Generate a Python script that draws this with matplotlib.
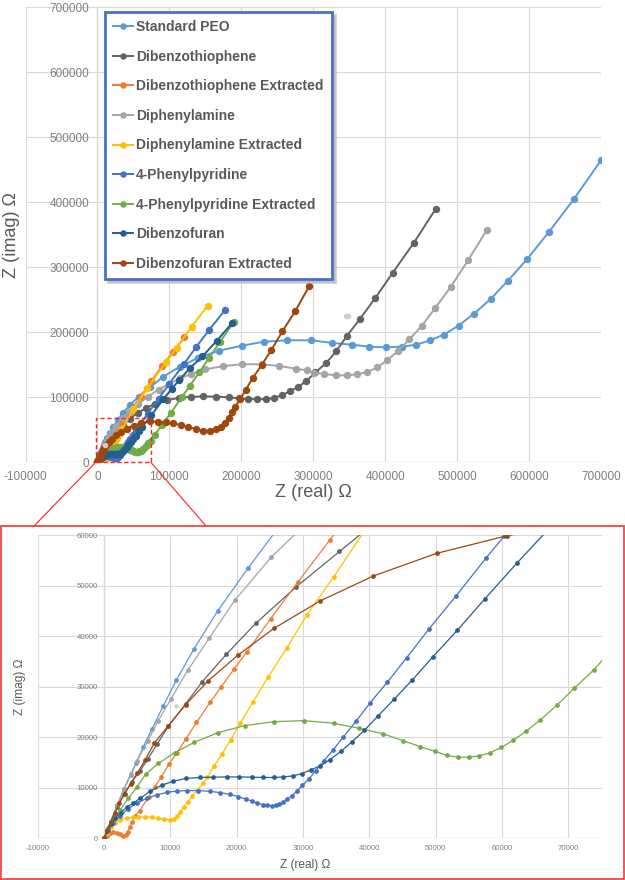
import matplotlib
matplotlib.use('Agg')
import matplotlib.pyplot as plt
from matplotlib.lines import Line2D
from matplotlib.patches import Rectangle

plt.rcParams['font.family'] = ['Liberation Sans', 'DejaVu Sans']
plt.rcParams['axes.unicode_minus'] = False

# ---------------- data ----------------
NAMES = ["Standard PEO", "Dibenzothiophene", "Dibenzothiophene Extracted", "Diphenylamine",
         "Diphenylamine Extracted", "4-Phenylpyridine", "4-Phenylpyridine Extracted",
         "Dibenzofuran", "Dibenzofuran Extracted"]
COLORS = ['#5B9BD5', '#636363', '#ED7D31', '#A5A5A5', '#FFC000', '#4472C4', '#70AD47', '#255E91', '#9E480E']

PEO_X = [0, 1000, 2000, 3000, 4000, 4870, 5890, 7210, 8890, 10880, 13580, 17130, 21760, 28000, 35000, 45600,
         57300, 73000, 91400, 114800, 139900, 168900, 200800, 232000, 264000, 296600, 326300, 353300, 377900,
         401200, 423000, 443500, 462500, 481600, 502000, 523000, 546700, 570300, 597800, 628000, 662400, 700000]
PEO_Y = [0, 3300, 6600, 9700, 12500, 14870, 18050, 21600, 26100, 31270, 37540, 45010, 53600, 64500, 75300, 88600,
         100900, 115200, 131700, 147100, 160900, 171700, 179400, 185600, 187700, 187700, 183600, 181000, 177900,
         176800, 177900, 181000, 187700, 196400, 210300, 228200, 251300, 279000, 313300, 354900, 405100, 464600]

DBT_X = [0, 1000, 2000, 3000, 4200, 5400, 6600, 8000, 9700, 12300, 14800, 18450, 22900, 28900, 35500, 45000,
         56000, 67000, 80000, 96300, 113900, 130200, 147400, 165100, 182300, 196800, 208700, 221700, 233800,
         245000, 256100, 267700, 279400, 290500, 303100, 317500, 331900, 346300, 364900, 386300, 410500, 439400, 470100]
DBT_Y = [0, 3300, 6200, 8700, 11200, 13300, 15700, 18650, 22200, 26600, 31000, 36450, 42600, 49700, 56800, 67000,
         76000, 83000, 90000, 95500, 99300, 100800, 101300, 101100, 99800, 98500, 97400, 97000, 97200,
         98800, 103100, 109200, 116400, 125100, 138500, 152300, 170700, 193800, 220500, 252800, 291700, 336900, 389700]

DBTE_X = [0, 400, 900, 1410, 1910, 2410, 2910, 3270, 3570, 3870, 4270, 4670, 5400, 6730, 7690, 8640, 9800, 11000,
          12310, 13940, 16000, 17670, 19600, 21520, 25120, 29210, 34020, 45000, 60000, 75000, 90000, 105000, 121000]
DBTE_Y = [0, 520, 990, 1190, 1120, 850, 460, 590, 1320, 2170, 3300, 4420, 5500, 8260, 10250, 12140, 14720, 16960,
          19600, 22940, 26950, 30000, 33500, 36880, 43490, 50700, 59030, 77000, 101000, 125000, 148000, 170000, 192000]

DPA_X = [0, 1000, 2000, 3000, 4000, 5000, 6610, 8110, 10100, 12620, 15870, 19710, 25240, 35000, 45000, 57000,
         70000, 85000, 100000, 115000, 130000, 150000, 175000, 200800, 228700, 252900, 276100, 291500, 301700,
         314700, 331900, 346300, 361200, 375100, 389100, 403000, 417900, 433700, 451200, 469500, 491400, 515100, 541600]
DPA_Y = [0, 3200, 6600, 9800, 12700, 15400, 19300, 23140, 27630, 33250, 39660, 47130, 55720, 68000, 79000, 90000,
         101000, 112000, 121000, 129000, 136000, 143000, 148000, 151000, 150700, 148200, 144000, 141500, 138000,
         135900, 133800, 133800, 135300, 138900, 146000, 157300, 171200, 189200, 210300, 237400, 270200, 310700, 357900]
DPA_STRAY_X = [10880, 345500, 348500]
DPA_STRAY_Y = [26110, 224600, 225400]

DPAE_X = [0, 400, 1005, 1660, 2410, 3420, 4320, 5180, 6180, 7190, 8190, 9100, 9900, 10500, 11060, 11510, 12000,
          12600, 13300, 14100, 14970, 15580, 16580, 17790, 19090, 20550, 22480, 24700, 27530, 30530, 34620,
          50000, 69300, 95300, 110000, 130900, 153300]
DPAE_Y = [0, 1100, 2170, 3100, 3630, 3960, 4150, 4220, 4220, 4150, 3960, 3760, 3560, 3890, 4420, 5210, 6100,
          7200, 8400, 9600, 10900, 12100, 14300, 16700, 19460, 22870, 27030, 31860, 37610, 44150, 51760,
          82000, 113900, 154000, 176000, 208700, 241000]

PP_X = [0, 650, 1410, 2410, 3670, 4920, 6430, 7940, 9450, 10950, 12460, 14220, 15980, 17490, 18990, 20250, 21360,
        22270, 23120, 23920, 24620, 25270, 25880, 26430, 27030, 27630, 28290, 29040, 29900, 30900, 31900, 33160,
        34570, 36100, 38000, 40120, 42730, 45630, 48990, 53060, 57640, 60350, 70000, 85000, 100000, 120000,
        137000, 155300, 177600]
PP_Y = [0, 1640, 2970, 4420, 5870, 6930, 7910, 8570, 9100, 9350, 9450, 9450, 9300, 9050, 8700, 8240, 7780,
        7390, 6990, 6660, 6530, 6460, 6530, 6720, 7120, 7710, 8440, 9300, 10490, 11740, 13390, 15370,
        17550, 20100, 23200, 26830, 30950, 35770, 41450, 47980, 55570, 59860, 75000, 98000, 121000, 151000,
        177000, 203700, 234400]

PPE_X = [0, 650, 1410, 2410, 3670, 4920, 6280, 8190, 10700, 13570, 17200, 21210, 25700, 30200, 34600, 38400,
         42100, 45050, 47650, 49920, 51680, 53430, 55010, 56580, 58150, 59910, 61690, 63600, 65790, 68300, 70880,
         73840, 80000, 90000, 102000, 117700, 128300, 141300, 155000, 169900, 190000]
PPE_Y = [0, 1980, 3620, 5600, 7910, 10090, 12670, 14850, 16960, 19000, 20930, 22300, 23100, 23300, 22780, 21800,
         20680, 19350, 18160, 17210, 16420, 16050, 16050, 16340, 16910, 18000, 19390, 21170, 23450, 26400, 29700,
         33350, 42500, 58000, 76000, 100900, 117300, 138300, 160000, 184600, 216400]

DBF_X = [0, 500, 1100, 1700, 2500, 3400, 4400, 5430, 6930, 8690, 10450, 12360, 14470, 16380, 18490, 20400, 22260,
         24020, 25630, 27030, 28440, 29800, 31150, 32560, 34070, 35700, 37420, 39230, 41360, 43770, 46480, 49600,
         53260, 57440, 62310, 75000, 91600, 103200, 113900, 128800, 146000, 166000, 186900]
DBF_Y = [0, 1500, 2900, 4000, 5100, 6100, 7000, 7900, 9300, 10500, 11300, 11850, 12050, 12100, 12150, 12150, 12100,
         12050, 12050, 12150, 12350, 12800, 13530, 14320, 15580, 17200, 19150, 21350, 24290, 27590, 31350, 35970,
         41180, 47450, 54580, 72500, 97000, 112900, 126700, 145000, 163000, 187200, 213900]

DBFE_X = [0, 500, 1000, 1600, 2300, 3100, 4000, 5000, 6200, 7590, 9700, 12310, 15730, 20150, 25630, 32560, 40600,
          50150, 60800, 73000, 84600, 95300, 105500, 115700, 126400, 137100, 147300, 156600, 165000, 171500,
          177100, 182200, 186800, 191900, 198500, 206000, 216200, 228300, 241800, 257100, 274800, 294700]
DBFE_Y = [0, 1700, 3300, 5000, 6900, 8800, 10800, 12900, 15500, 18880, 22310, 26470, 31220, 36230, 41580, 46990,
          51940, 56430, 59930, 62800, 62700, 61500, 59900, 57400, 54300, 51200, 48700, 48200, 50700, 54800,
          61000, 68600, 76800, 85600, 97400, 111300, 130200, 149700, 172800, 201500, 232300, 271700]

SERIES_X = [PEO_X, DBT_X, DBTE_X, DPA_X, DPAE_X, PP_X, PPE_X, DBF_X, DBFE_X]
SERIES_Y = [PEO_Y, DBT_Y, DBTE_Y, DPA_Y, DPAE_Y, PP_Y, PPE_Y, DBF_Y, DBFE_Y]

MAIN_XTICKS = [-100000, 0, 100000, 200000, 300000, 400000, 500000, 600000, 700000]
MAIN_YTICKS = [0, 100000, 200000, 300000, 400000, 500000, 600000, 700000]
ZOOM_XTICKS = [-10000, 0, 10000, 20000, 30000, 40000, 50000, 60000, 70000]
ZOOM_YTICKS = [0, 10000, 20000, 30000, 40000, 50000, 60000]
ZOOM_BOX = (-2400, 0, 74300, 68700)   # x0, y0, x1, y1 of the dashed box on the main chart

# ---------------- figure ----------------
W, H = 625, 880
fig = plt.figure(figsize=(W / 100, H / 100), dpi=100)
fx = lambda px: px / W
fy = lambda py: 1 - py / H

ax = fig.add_axes([fx(25.5), fy(462.3), (601 - 25.5) / W, 455 / H])
axi = fig.add_axes([fx(37.7), fy(838.3), 563.8 / W, 303 / H])

TICK_C = '#7f7f7f'
TITLE_C = '#595959'
GRID_C = '#D9D9D9'


def setup(a, xt, yt, xlim, ylim, tsize, xpad, ypad):
    a.set_xlim(*xlim)
    a.set_ylim(*ylim)
    a.set_xticks(xt)
    a.set_xticklabels([str(v) for v in xt])
    a.set_yticks(yt)
    a.set_yticklabels([str(v) for v in yt])
    for s in a.spines.values():
        s.set_visible(False)
    a.spines['left'].set_position(('data', 0))
    a.tick_params(axis='both', length=0, labelsize=tsize, labelcolor=TICK_C)
    a.tick_params(axis='x', pad=xpad)
    a.tick_params(axis='y', pad=ypad)
    a.grid(True, color=GRID_C, lw=0.8)
    a.set_axisbelow(True)
    a.axhline(0, color='#c8c8c8', lw=0.9, zorder=0.5)
    a.axvline(0, color='#c8c8c8', lw=0.9, zorder=0.5)


setup(ax, MAIN_XTICKS, MAIN_YTICKS, (-100000, 700000), (0, 700000), 8.5, 6, 6)
setup(axi, ZOOM_XTICKS, ZOOM_YTICKS, (-10000, 75000), (0, 60000), 5.6, 4.5, 4.5)

for name, xs, ys, c in zip(NAMES, SERIES_X, SERIES_Y, COLORS):
    ax.plot(xs, ys, '-o', color=c, lw=1.4, ms=4.3, label=name)
    axi.plot(xs, ys, '-o', color=c, lw=0.9, ms=2.4)

ax.plot(DPA_STRAY_X, DPA_STRAY_Y, 'o', color='#cfcfcf', ms=3.0)
axi.plot(DPA_STRAY_X, DPA_STRAY_Y, 'o', color='#cfcfcf', ms=2.2)

# axis titles
ax.set_xlabel('Z (real) Ω', fontsize=13, color=TITLE_C)
ax.xaxis.set_label_coords(0.5, -0.066)
ax.xaxis.label.set(va='center', ha='center')
ax.set_ylabel('Z (imag) Ω', fontsize=13, color=TITLE_C)
ax.yaxis.set_label_coords(-0.0235, 0.5)
ax.yaxis.label.set(va='center', ha='center', rotation_mode='default')

axi.set_xlabel('Z (real) Ω', fontsize=8.6, color=TITLE_C)
axi.xaxis.set_label_coords(0.475, -0.088)
axi.xaxis.label.set(va='center', ha='center')
axi.set_ylabel('Z (imag) Ω', fontsize=8.6, color=TITLE_C)
axi.yaxis.set_label_coords(-0.031, 0.5)
axi.yaxis.label.set(va='center', ha='center', rotation_mode='default')

# legend
leg = ax.legend(loc='upper left', bbox_to_anchor=(0.138, 0.99), frameon=True, fancybox=False,
                edgecolor='#4472C4', facecolor='white', framealpha=1, borderpad=0.6,
                labelspacing=1.12, handlelength=1.4, handletextpad=0.25, borderaxespad=0,
                prop={'family': 'Liberation Sans', 'weight': 'bold', 'size': 10.0},
                labelcolor=TITLE_C, markerscale=0.85,
                shadow={'color': '#b0b0b0', 'alpha': 0.6})
leg.get_frame().set_linewidth(2)

# dashed zoom box on main
bx0, by0, bx1, by1 = ZOOM_BOX
ax.add_patch(Rectangle((bx0, by0), bx1 - bx0, by1 - by0, fill=False, ec='#FF2020',
                       ls=(0, (3, 2)), lw=1.0, zorder=10, clip_on=False))

# connectors and red frame
inv = fig.transFigure.inverted()
p0 = inv.transform(ax.transData.transform((bx0, by0)))
p1 = inv.transform(ax.transData.transform((bx1, by0)))
fig.add_artist(Line2D([p0[0], fx(34)], [p0[1], fy(526)], transform=fig.transFigure, color='#FF2020', lw=0.8))
fig.add_artist(Line2D([p1[0], fx(206)], [p1[1], fy(526)], transform=fig.transFigure, color='#FF2020', lw=0.8))
fig.add_artist(Rectangle((fx(1.5), fy(878.5)), 622 / W, 353 / H, transform=fig.transFigure,
                         fill=False, ec='#F04848', lw=1.3))

fig.savefig('out.png', dpi=100)
